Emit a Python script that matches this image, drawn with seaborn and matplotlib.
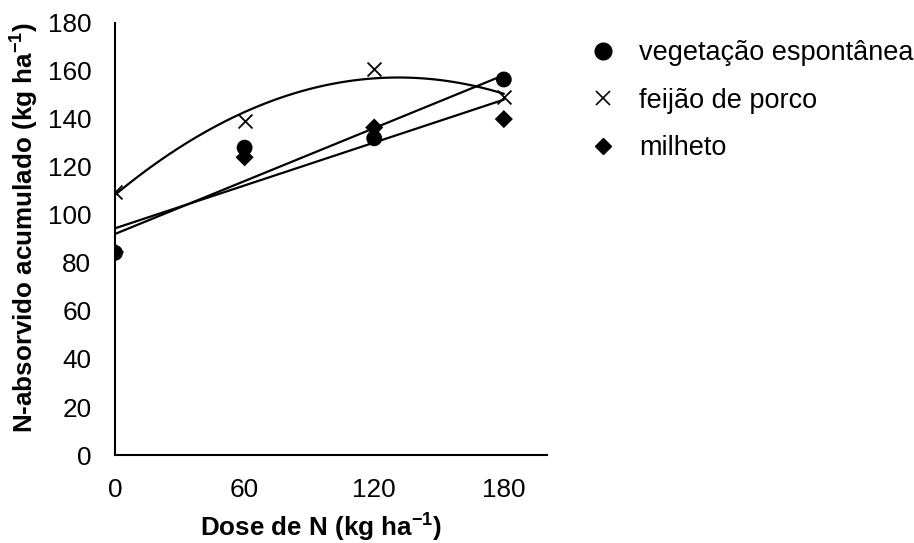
import matplotlib
matplotlib.use("Agg")
import matplotlib.pyplot as plt
from matplotlib.lines import Line2D
import pandas as pd
import seaborn as sns

# N dose applied (kg/ha)
doses = [0, 60, 120, 180]

# Accumulated absorbed N (kg/ha) for each cover crop
vegetacao = [84.2, 128.0, 131.9, 156.4]
feijao = [109.6, 139.1, 160.6, 149.2]
milheto = [84.5, 124.0, 136.4, 139.9]

series_names = ["vegetação espontânea", "feijão de porco", "milheto"]
y_ticks = [0, 20, 40, 60, 80, 100, 120, 140, 160, 180]
x_ticks = [0, 60, 120, 180]

sns.set_style("white")
plt.rcParams["font.family"] = ["Liberation Sans", "DejaVu Sans"]
plt.rcParams["mathtext.fontset"] = "custom"
plt.rcParams["mathtext.rm"] = "Liberation Sans"
plt.rcParams["mathtext.bf"] = "Liberation Sans:bold"
plt.rcParams["text.color"] = "black"
plt.rcParams["axes.labelcolor"] = "black"
plt.rcParams["xtick.color"] = "black"
plt.rcParams["ytick.color"] = "black"

fig = plt.figure(figsize=(9.14, 5.43), dpi=100)
ax = fig.add_axes([0.1258, 0.162, 0.4727, 0.796])

df = pd.DataFrame({"dose": doses, "veg": vegetacao, "fei": feijao, "mil": milheto})

line_kw = dict(color="black", lw=1.6)

# milheto: linear trend, diamonds
sns.regplot(data=df, x="dose", y="mil", order=1, ci=None, ax=ax,
            marker="D", color="black",
            scatter_kws=dict(s=85, color="black", edgecolors="none",
                             alpha=1, zorder=3),
            line_kws=line_kw)
# vegetação espontânea: linear trend, circles
sns.regplot(data=df, x="dose", y="veg", order=1, ci=None, ax=ax,
            marker="o", color="black",
            scatter_kws=dict(s=130, color="black", edgecolors="none",
                             alpha=1, zorder=3),
            line_kws=line_kw)
# feijão de porco: quadratic trend, crosses
sns.regplot(data=df, x="dose", y="fei", order=2, ci=None, ax=ax,
            marker="x", color="black",
            scatter_kws=dict(s=100, color="black", linewidths=1.3,
                             alpha=1, zorder=3),
            line_kws=line_kw)

ax.set_xlim(0, 200)
ax.set_ylim(0, 180)
ax.set_xticks(x_ticks)
ax.set_yticks(y_ticks)
ax.tick_params(axis="x", length=0, labelsize=18.8, pad=16.5)
ax.tick_params(axis="y", length=0, labelsize=18.8, pad=17)
for s in ["top", "right"]:
    ax.spines[s].set_visible(False)
for s in ["left", "bottom"]:
    ax.spines[s].set_color("black")
    ax.spines[s].set_linewidth(1.5)

ax.set_xlabel(r"Dose de N (kg ha$\mathbf{^{-1}}$)", fontsize=18.7,
              fontweight="bold")
ax.set_ylabel(r"N-absorvido acumulado (kg ha$\mathbf{^{-1}}$)", fontsize=18.7,
              fontweight="bold")
ax.xaxis.set_label_coords(0.477, -0.132)
ax.yaxis.set_label_coords(-0.171, 0.527)

handles = [
    Line2D([], [], ls="none", marker="o", color="black", markersize=12),
    Line2D([], [], ls="none", marker="x", color="black", markersize=10,
           markeredgewidth=1.2),
    Line2D([], [], ls="none", marker="D", color="black", markersize=8.5),
]
fig.legend(handles, series_names, loc="upper left",
           bbox_to_anchor=(0.6186, 0.971), frameon=False, fontsize=19.5,
           handletextpad=0.82, labelspacing=0.80, handlelength=1.0)

fig.savefig("out.png", dpi=100)
